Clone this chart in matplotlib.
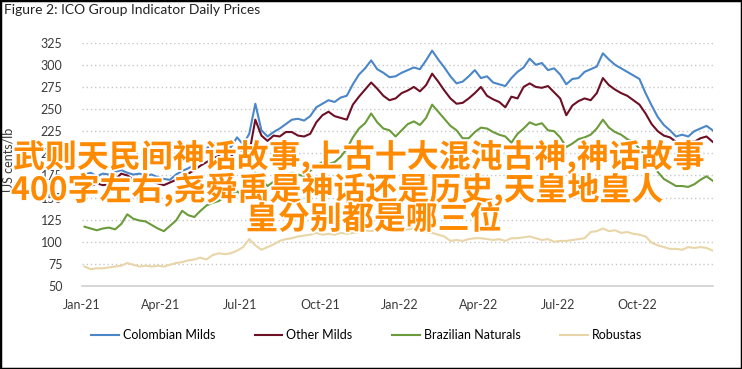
import numpy as np
import pandas as pd
import matplotlib
matplotlib.use("Agg")
import matplotlib.pyplot as plt
import matplotlib.dates as mdates
import matplotlib.patheffects as pe
from matplotlib.patches import Rectangle

# weekly readings, US cents/lb
dates = pd.date_range("2021-01-04", periods=104, freq="7D")

colombian = [176, 178, 174, 177, 176, 179, 181, 178, 176, 177,
             175, 176, 173, 171, 170, 176, 180, 183, 187, 194,
             205, 212, 210, 211, 207, 218, 210, 222, 256, 226,
             219, 224, 228, 233, 238, 239, 237, 242, 252, 256,
             260, 258, 263, 265, 278, 289, 296, 305, 295, 291,
             286, 287, 291, 294, 297, 295, 305, 316, 306, 297,
             287, 279, 281, 287, 294, 285, 287, 280, 278, 276,
             285, 292, 297, 307, 300, 302, 294, 296, 289, 278,
             284, 285, 292, 295, 298, 313, 306, 300, 296, 292,
             288, 284, 268, 254, 241, 232, 226, 219, 221, 219,
             225, 228, 231, 226]

other = [165, 163, 166, 164, 165, 170, 177, 175, 170, 168,
         171, 168, 166, 164, 167, 170, 174, 177, 181, 186,
         190, 194, 197, 193, 196, 206, 202, 200, 238, 220,
         214, 220, 219, 224, 224, 220, 219, 222, 235, 243,
         247, 242, 240, 238, 255, 264, 272, 280, 273, 265,
         260, 262, 268, 271, 275, 270, 277, 290, 281, 271,
         262, 256, 257, 262, 268, 275, 265, 261, 258, 252,
         264, 262, 275, 279, 275, 274, 276, 269, 262, 243,
         254, 259, 262, 260, 268, 285, 277, 272, 268, 265,
         260, 255, 245, 233, 225, 220, 218, 213, 211, 215,
         213, 217, 219, 213]

brazilian = [117, 115, 113, 115, 116, 114, 120, 131, 126, 124,
             123, 119, 115, 112, 118, 124, 135, 130, 128, 135,
             141, 144, 146, 151, 153, 157, 152, 148, 178, 170,
             163, 168, 172, 175, 178, 176, 174, 180, 186, 190,
             188, 190, 196, 205, 218, 228, 234, 245, 235, 228,
             226, 219, 226, 233, 236, 232, 240, 255, 247, 239,
             231, 226, 217, 217, 224, 229, 228, 224, 221, 219,
             212, 222, 228, 235, 232, 234, 226, 225, 218, 207,
             211, 216, 218, 221, 228, 238, 229, 224, 221, 216,
             213, 205, 196, 188, 179, 171, 167, 163, 163, 162,
             165, 170, 174, 169]

robustas = [72, 69, 70, 70, 71, 72, 73, 76, 74, 72,
            73, 72, 73, 72, 74, 76, 77, 79, 80, 82,
            80, 85, 87, 86, 87, 90, 94, 103, 96, 91,
            94, 97, 101, 103, 104, 106, 107, 108, 110, 108,
            109, 108, 110, 109, 110, 111, 113, 112, 114, 115,
            114, 116, 113, 114, 115, 113, 111, 110, 108, 106,
            101, 102, 101, 103, 104, 104, 103, 102, 103, 101,
            104, 104, 105, 106, 104, 102, 103, 100, 101, 101,
            102, 103, 104, 111, 112, 115, 112, 113, 110, 111,
            109, 108, 106, 99, 96, 94, 92, 92, 91, 94,
            93, 94, 93, 90]

series = [("Colombian Milds", colombian, "#4a86c8"),
          ("Other Milds", other, "#6d0f25"),
          ("Brazilian Naturals", brazilian, "#6b9b3a"),
          ("Robustas", robustas, "#e8d6a8")]

overlay_lines = ["武则天民间神话故事,上古十大混沌古神,神话故事",
                 "400字左右,尧舜禹是神话还是历史,天皇地皇人",
                 "皇分别都是哪三位"]

plt.rcParams["font.family"] = ["Lato", "DejaVu Sans"]

fig = plt.figure(figsize=(7.42, 3.69), dpi=100)
ax = fig.add_axes([0.1105, 0.2249, 0.8499, 0.6594])

for name, vals, col in series:
    ax.plot(dates, vals, color=col, lw=1.5, marker="", label=name)

ax.set_ylim(50, 325)
ax.set_yticks(np.arange(50, 326, 25))
ax.set_xlim(pd.Timestamp("2021-01-01"), dates[-1])
ax.xaxis.set_major_locator(mdates.MonthLocator(bymonth=[1, 4, 7, 10]))
ax.xaxis.set_major_formatter(mdates.DateFormatter("%b-%y"))
ax.grid(axis="y", color="#c8c8c8", ls=(0, (1, 2)), lw=1.0)
ax.set_axisbelow(True)
for s in ["top", "right", "left"]:
    ax.spines[s].set_visible(False)
ax.spines["bottom"].set_color("#d0d0d0")
ax.spines["bottom"].set_linewidth(1.2)
ax.tick_params(length=0, labelsize=9, colors="#3a3a3a")
ax.tick_params(axis="y", pad=14)
ax.tick_params(axis="x", pad=9)
ax.set_ylabel("US cents/lb", fontsize=9, color="#3a3a3a")
ax.yaxis.set_label_coords(-0.107, 0.52)

fig.text(0.006, 0.972, "Figure 2: ICO Group Indicator Daily Prices",
         fontsize=10, va="center", ha="left", color="#222222")

fig.legend(loc="center", bbox_to_anchor=(0.494, 0.092), ncol=4,
           frameon=False, fontsize=9, handlelength=2.2,
           columnspacing=3.2, handletextpad=0.3)

# overlay text lines, pixel positions
cjk = ["Noto Sans CJK SC", "DejaVu Sans"]
stroke = [pe.withStroke(linewidth=2.5, foreground="white")]
for txt, xp, yp in [(overlay_lines[0], 13, 157),
                    (overlay_lines[1], 11, 190),
                    (overlay_lines[2], 246, 220)]:
    fig.text(xp / 742, 1 - yp / 369, txt, ha="left", va="center",
             fontsize=23, color="#ff8a00", fontweight="bold",
             family=cjk, path_effects=stroke)

fig.add_artist(Rectangle((0, 0), 1, 1, transform=fig.transFigure,
                         fill=False, ec="black", lw=2.5))

fig.savefig("out.png", dpi=100)
